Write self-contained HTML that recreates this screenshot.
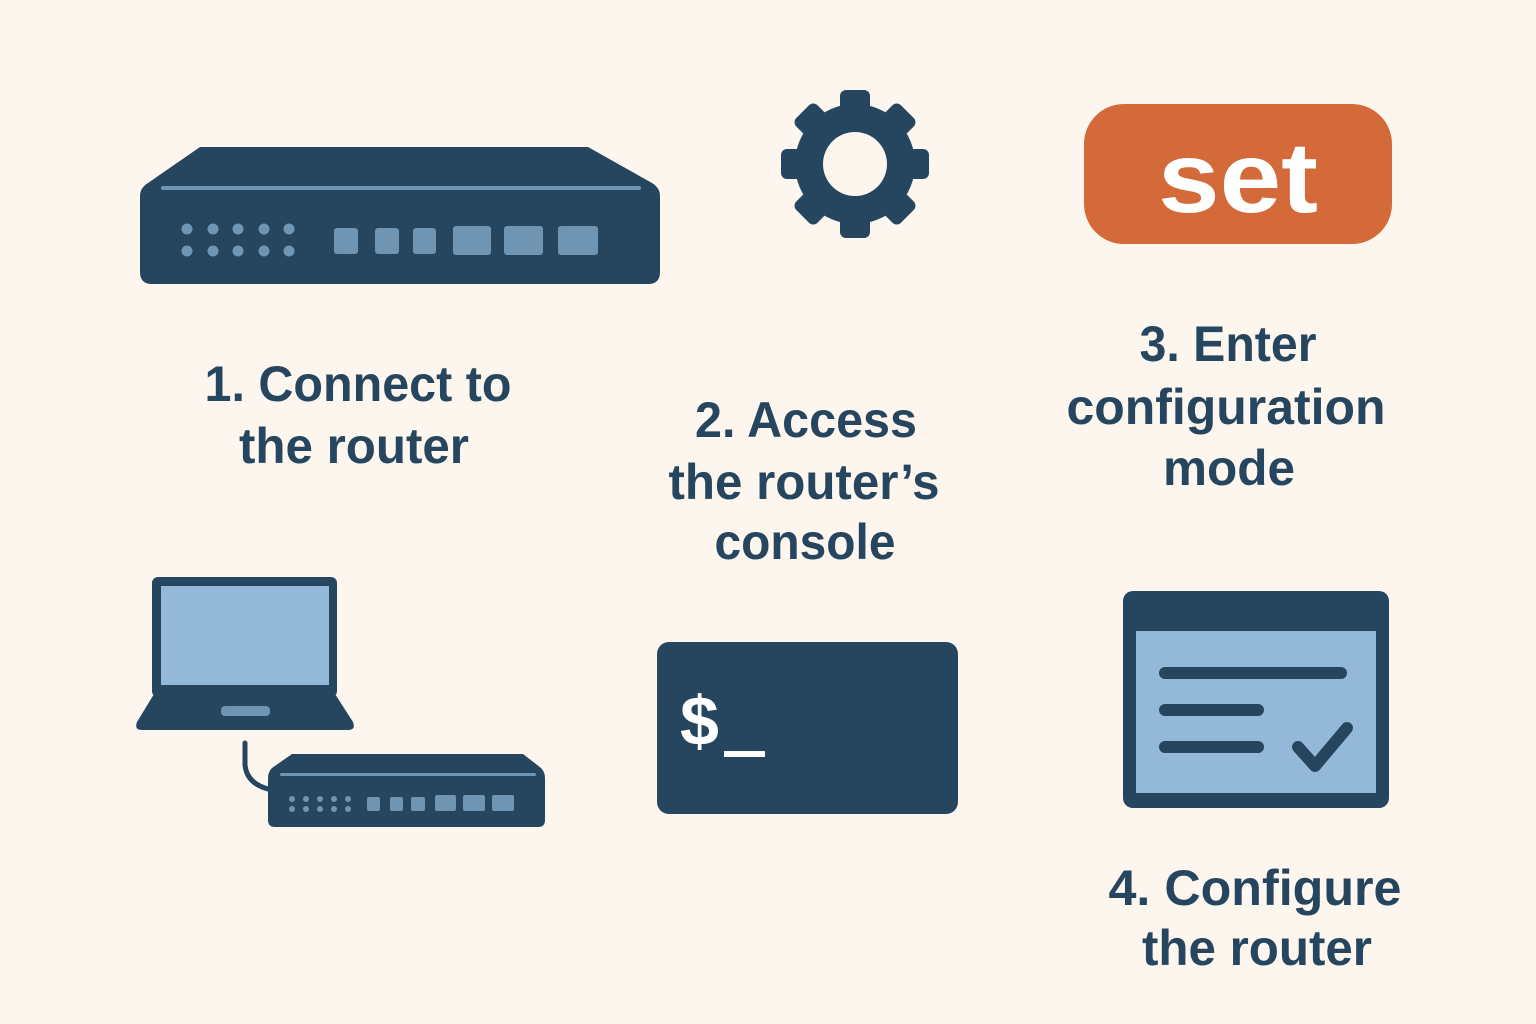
<!DOCTYPE html>
<html><head><meta charset="utf-8"><style>
html,body{margin:0;padding:0;background:#fcf6ef;}
svg{display:block}
text{font-family:"Liberation Sans",sans-serif;font-weight:bold;fill:#26455f;}
</style></head><body>
<svg width="1536" height="1024" viewBox="0 0 1536 1024" xmlns="http://www.w3.org/2000/svg">
<rect width="1536" height="1024" fill="#fcf6ef"/>
<path d="M200,147 L588,147 L652,183 Q660,188 660,196 L660,272 Q660,284 648,284 L152,284 Q140,284 140,272 L140,196 Q140,188 148,183 Z" fill="#26455f"/>
<rect x="161" y="186" width="480" height="4" rx="2" fill="#6f95b3"/>
<g fill="#6f95b3">
<circle cx="187" cy="229" r="5.5"/><circle cx="213" cy="229" r="5.5"/><circle cx="238" cy="229" r="5.5"/><circle cx="264" cy="229" r="5.5"/><circle cx="289" cy="229" r="5.5"/>
<circle cx="187" cy="251" r="5.5"/><circle cx="213" cy="251" r="5.5"/><circle cx="238" cy="251" r="5.5"/><circle cx="264" cy="251" r="5.5"/><circle cx="289" cy="251" r="5.5"/>
<rect x="334" y="228" width="24" height="26" rx="3"/><rect x="375" y="228" width="24" height="26" rx="3"/><rect x="413" y="228" width="23" height="26" rx="3"/>
<rect x="453" y="226" width="38" height="29" rx="3"/><rect x="504" y="226" width="39" height="29" rx="3"/><rect x="558" y="226" width="40" height="29" rx="3"/>
</g>
<g transform="translate(855,164)" fill="#26455f">
<circle r="60"/>
<g id="t"><rect x="-15" y="-74" width="30" height="40" rx="6"/></g>
<use href="#t" transform="rotate(45)"/><use href="#t" transform="rotate(90)"/><use href="#t" transform="rotate(135)"/>
<use href="#t" transform="rotate(180)"/><use href="#t" transform="rotate(225)"/><use href="#t" transform="rotate(270)"/><use href="#t" transform="rotate(315)"/>
<circle r="32" fill="#fcf6ef"/>
</g>
<rect x="1084" y="104" width="308" height="140" rx="40" fill="#d4693a"/>
<text x="1238" y="212" font-size="100" text-anchor="middle" style="fill:#fff" textLength="160" lengthAdjust="spacingAndGlyphs">set</text>
<g font-size="50" text-anchor="middle">
<text x="358" y="401" textLength="307" lengthAdjust="spacingAndGlyphs">1. Connect to</text>
<text x="354" y="463" textLength="230" lengthAdjust="spacingAndGlyphs">the router</text>
<text x="806" y="437" textLength="222" lengthAdjust="spacingAndGlyphs">2. Access</text>
<text x="804" y="499" textLength="271" lengthAdjust="spacingAndGlyphs">the router’s</text>
<text x="805" y="559" textLength="181" lengthAdjust="spacingAndGlyphs">console</text>
<text x="1228" y="361" textLength="177" lengthAdjust="spacingAndGlyphs">3. Enter</text>
<text x="1226" y="424" textLength="319" lengthAdjust="spacingAndGlyphs">configuration</text>
<text x="1229" y="485" textLength="132" lengthAdjust="spacingAndGlyphs">mode</text>
<text x="1255" y="905" textLength="293" lengthAdjust="spacingAndGlyphs">4. Configure</text>
<text x="1257" y="965" textLength="230" lengthAdjust="spacingAndGlyphs">the router</text>
</g>
<rect x="152" y="577" width="185" height="120" rx="6" fill="#26455f"/>
<rect x="161" y="586" width="168" height="99" fill="#94b9d8"/>
<path d="M154,694 L335,694 L353,722 Q356,730 348,730 L142,730 Q134,730 137,722 Z" fill="#26455f"/>
<rect x="221" y="706" width="49" height="10" rx="4" fill="#6f95b3"/>
<path d="M245,743 L245,765 Q247,785 272,790" fill="none" stroke="#26455f" stroke-width="5" stroke-linecap="round"/>
<path d="M292,754 L523,754 L541,768 Q545,772 545,778 L545,820 Q545,827 538,827 L275,827 Q268,827 268,820 L268,778 Q268,772 272,768 Z" fill="#26455f"/>
<rect x="280" y="773" width="256" height="3" rx="1.5" fill="#6f95b3"/>
<g fill="#6f95b3">
<circle cx="292" cy="799" r="3"/><circle cx="306" cy="799" r="3"/><circle cx="320" cy="799" r="3"/><circle cx="334" cy="799" r="3"/><circle cx="348" cy="799" r="3"/>
<circle cx="292" cy="809" r="3"/><circle cx="306" cy="809" r="3"/><circle cx="320" cy="809" r="3"/><circle cx="334" cy="809" r="3"/><circle cx="348" cy="809" r="3"/>
<rect x="367" y="797" width="13" height="14" rx="2"/><rect x="390" y="797" width="13" height="14" rx="2"/><rect x="411" y="797" width="14" height="14" rx="2"/>
<rect x="435" y="795" width="21" height="16" rx="2"/><rect x="463" y="795" width="22" height="16" rx="2"/><rect x="492" y="795" width="22" height="16" rx="2"/>
</g>
<rect x="657" y="642" width="301" height="172" rx="12" fill="#26455f"/>
<text x="680" y="745" font-size="70" style="fill:#fff">$</text>
<rect x="724" y="751" width="41" height="6" fill="#fff"/>
<rect x="1123" y="591" width="266" height="217" rx="10" fill="#26455f"/>
<rect x="1136" y="631" width="240" height="162" fill="#94b9d8"/>
<g stroke="#26455f" stroke-width="12" stroke-linecap="round" fill="none">
<line x1="1165" y1="673" x2="1341" y2="673"/>
<line x1="1165" y1="710" x2="1258" y2="710"/>
<line x1="1165" y1="747" x2="1258" y2="747"/>
<polyline points="1298,747 1315,766 1347,728" stroke-linejoin="round"/>
</g>
</svg>
</body></html>
